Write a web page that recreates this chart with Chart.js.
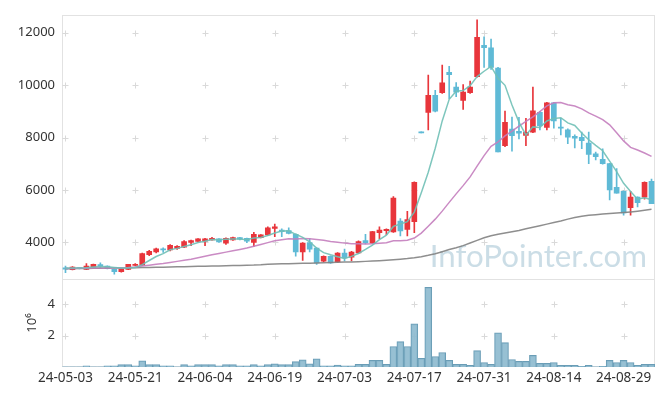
<!DOCTYPE html>
<html><head><meta charset="utf-8">
<script src="https://cdn.jsdelivr.net/npm/chart.js@4.4.1/dist/chart.umd.min.js"></script>
<style>html,body{margin:0;padding:0;background:#fff;}#wrap{width:665px;height:396px;position:relative;}</style>
</head><body><div id="wrap"><canvas id="c" width="665" height="396"></canvas></div>
<script>
const dates = ["24-05-03","24-05-07","24-05-08","24-05-09","24-05-10","24-05-13","24-05-14","24-05-16","24-05-17","24-05-20",
"24-05-21","24-05-22","24-05-23","24-05-24","24-05-27","24-05-28","24-05-29","24-05-30","24-05-31","24-06-03",
"24-06-04","24-06-05","24-06-07","24-06-10","24-06-11","24-06-12","24-06-13","24-06-14","24-06-17","24-06-18",
"24-06-19","24-06-20","24-06-21","24-06-24","24-06-25","24-06-26","24-06-27","24-06-28","24-07-01","24-07-02",
"24-07-03","24-07-04","24-07-05","24-07-08","24-07-09","24-07-10","24-07-11","24-07-12","24-07-15","24-07-16",
"24-07-17","24-07-18","24-07-19","24-07-22","24-07-23","24-07-24","24-07-25","24-07-26","24-07-29","24-07-30",
"24-07-31","24-08-01","24-08-02","24-08-05","24-08-06","24-08-07","24-08-08","24-08-09","24-08-12","24-08-13",
"24-08-14","24-08-16","24-08-19","24-08-20","24-08-21","24-08-22","24-08-23","24-08-26","24-08-27","24-08-28",
"24-08-29","24-08-30","24-09-02","24-09-03","24-09-04"];
const openP = [3038,2960,3020,2970,3061,3160,3100,2975,2885,2975,
3125,3136,3538,3636,3763,3712,3775,3825,4000,4037,
4050,4100,4138,3975,4100,4187,4160,4000,4187,4288,
4537,4475,4450,4312,3636,4000,3788,3286,3475,3262,
3600,3437,3600,4075,3975,4375,4450,4400,4812,4500,
4790,8180,8958,9608,9710,10487,9923,9420,9710,10322,
11512,11425,10650,7692,8320,8233,8083,8207,8958,8383,
9322,8400,8293,8045,8008,7793,7380,7166,7005,6103,
5953,5326,5728,5728,6330];
const highP = [3100,3080,3030,3200,3180,3223,3110,2990,3010,3170,
3200,3600,3700,3790,3800,3920,3880,4070,4090,4150,
4160,4200,4150,4175,4210,4200,4170,4387,4300,4600,
4700,4520,4563,4330,4000,4150,3800,3490,3490,3620,
3750,3660,4060,4312,4430,4600,4520,5750,4913,5190,
6310,8180,10385,9800,10760,10712,10100,10020,10150,12488,
11838,11750,10680,9006,8785,8770,8733,9923,9000,9340,
9340,8733,8330,8100,8207,8207,7450,7568,7020,6817,
5970,5953,5740,6310,6415];
const lowP = [2850,2950,2990,2960,3050,3036,2990,2790,2870,2960,
3110,3130,3500,3600,3620,3680,3740,3800,3876,4020,
3875,4090,4000,3930,4080,4100,3990,3850,4170,4270,
4225,4225,4330,3475,3312,3640,3163,3270,3200,3240,
3300,3300,3580,3950,3960,4150,4300,4380,4250,4250,
4375,8180,8293,8980,9680,9484,9560,9070,9680,10300,
10675,10600,7455,7650,7482,7944,7693,8190,8293,8293,
8357,8105,7767,7606,7580,7005,7150,6990,5626,5878,
5040,5040,5352,5653,5476];
const closeP = [2987,3061,3010,3100,3163,3100,3000,2885,3000,3163,
3163,3575,3662,3763,3712,3888,3850,4037,4075,4138,
4138,4160,4025,4160,4187,4125,4050,4312,4288,4563,
4600,4412,4350,3636,3975,3750,3224,3475,3224,3600,
3412,3636,4037,3988,4412,4475,4500,5690,4440,4875,
6290,8180,9608,9008,10085,10400,9735,9735,9923,11824,
11425,10675,7455,8582,8068,8169,8195,9022,8458,9322,
8631,8357,8019,7981,7880,7354,7268,7005,6002,5878,
5127,5728,5514,6290,5476];
const volumeM = [0.01,0.01,0.01,0.08,0.01,0.01,0.08,0.08,0.15,0.15,
0.08,0.40,0.15,0.15,0.08,0.08,0.01,0.15,0.08,0.15,
0.15,0.15,0.08,0.15,0.15,0.08,0.08,0.15,0.08,0.15,
0.21,0.15,0.15,0.34,0.46,0.21,0.53,0.08,0.07,0.12,
0.07,0.07,0.17,0.17,0.42,0.42,0.17,1.31,1.62,1.31,
2.76,0.55,5.09,0.67,0.93,0.42,0.17,0.17,0.10,1.05,
0.29,0.17,2.19,1.56,0.48,0.36,0.36,0.74,0.23,0.23,
0.29,0.10,0.10,0.10,0.05,0.10,0.01,0.05,0.42,0.29,
0.42,0.29,0.10,0.17,0.17];
const ma5 = [3020,3030,3030,3040,3064,3087,3075,3050,3030,3030,
3042,3157,3313,3465,3575,3720,3775,3850,3912,3998,
4048,4110,4107,4124,4134,4131,4109,4167,4192,4268,
4363,4435,4443,4312,4195,4025,3787,3612,3530,3455,
3387,3469,3582,3735,3897,4110,4282,4613,4703,4796,
5159,5895,6679,7592,8634,9456,9767,9793,9976,10323,
10528,10716,10260,9992,9241,8590,8094,8407,8382,8633,
8726,8758,8557,8462,8174,7918,7700,7498,7102,6701,
6256,5948,5650,5707,5627];
const ma20 = [3010,3012,3015,3020,3025,3030,3032,3035,3040,3050,
3070,3100,3135,3170,3200,3240,3280,3320,3365,3417,
3474,3529,3580,3633,3684,3735,3788,3859,3924,3994,
4065,4107,4142,4135,4148,4142,4110,4082,4040,4013,
3976,3950,3951,3942,3953,3971,3993,4062,4070,4086,
4170,4358,4621,4890,5195,5528,5854,6167,6501,6913,
7313,7665,7836,8066,8249,8433,8618,8785,8986,9208,
9325,9334,9254,9203,9093,8941,8817,8681,8485,8187,
7872,7625,7528,7413,7284];
const ma120 = [3000,3004,3008,3012,3016,3020,3024,3028,3032,3036,
3040,3045,3050,3055,3060,3066,3072,3078,3084,3090,
3096,3102,3108,3114,3120,3126,3132,3138,3150,3172,
3180,3186,3192,3198,3205,3212,3220,3228,3236,3244,
3252,3260,3270,3280,3292,3305,3320,3340,3362,3388,
3420,3460,3510,3570,3650,3730,3800,3880,3980,4080,
4180,4260,4310,4360,4410,4460,4520,4580,4640,4700,
4760,4820,4890,4950,5000,5035,5060,5085,5105,5120,
5140,5165,5195,5230,5265];
const priceTicks = [4000,6000,8000,10000,12000];
const volumeTicks = [2,4];
const labelEvery = 10;

const UP = '#e8353b', DOWN = '#5fbad6';
const candleColors = closeP.map((c,i)=> c > openP[i] ? UP : DOWN);
const FONT = {family:'"Noto Sans", sans-serif', size:13};
const XFONT = {family:'"Noto Sans", sans-serif', size:13.5};
const TXT = '#333';

const decor = {
  id:'decor',
  beforeDatasetsDraw(chart){
    const {ctx, scales:{x,y,yv}} = chart;
    ctx.save();
    ctx.fillStyle = 'rgba(190,212,224,0.8)';
    ctx.font = '32px Lato, sans-serif';
    const w = ctx.measureText('InfoPointer.com').width;
    const fs = 32*217/w;
    ctx.font = fs.toFixed(1)+'px Lato, sans-serif';
    ctx.textAlign='right'; ctx.textBaseline='alphabetic';
    ctx.fillText('InfoPointer.com', 647, 267);
    ctx.strokeStyle = '#e2e2e2'; ctx.lineWidth = 1;
    const L = Math.round(x.left)+0.5, R = Math.round(x.right)-0.5;
    ctx.strokeRect(L, Math.round(y.top)+0.5, R-L, Math.round(y.bottom)-Math.round(y.top));
    ctx.strokeRect(L, Math.round(yv.top)+0.5, R-L, Math.round(yv.bottom)-Math.round(yv.top)-1);
    ctx.strokeStyle = '#d9d9d9';
    const cross = (px,py)=>{px=Math.round(px)+0.5;py=Math.round(py)+0.5;
      ctx.beginPath();ctx.moveTo(px-3,py);ctx.lineTo(px+3,py);ctx.moveTo(px,py-3);ctx.lineTo(px,py+3);ctx.stroke();};
    for (let i=0;i<dates.length;i+=labelEvery){
      const px = x.getPixelForValue(i);
      priceTicks.forEach(v=>cross(px, y.getPixelForValue(v)));
      volumeTicks.forEach(v=>cross(px, yv.getPixelForValue(v)));
    }
    ctx.restore();
  }
};

new Chart(document.getElementById('c'), {
  data:{
    labels: dates,
    datasets:[
      {type:'line', label:'MA5', data:ma5, yAxisID:'y', borderColor:'rgba(112,192,182,0.9)', borderWidth:1.5, pointRadius:0, tension:0, order:0},
      {type:'line', label:'MA20', data:ma20, yAxisID:'y', borderColor:'rgba(196,126,190,0.9)', borderWidth:1.5, pointRadius:0, tension:0, order:0},
      {type:'line', label:'MA120', data:ma120, yAxisID:'y', borderColor:'rgba(130,130,130,0.9)', borderWidth:1.5, pointRadius:0, tension:0, order:0},
      {type:'bar', label:'body', data:openP.map((o,i)=>[o, closeP[i]]), yAxisID:'y', backgroundColor:candleColors, barThickness:5, grouped:false, minBarLength:1, order:1},
      {type:'bar', label:'wick', data:lowP.map((l,i)=>[l, highP[i]]), yAxisID:'y', backgroundColor:candleColors, barThickness:1, grouped:false, minBarLength:1, order:2},
      {type:'bar', label:'volume', data:volumeM, yAxisID:'yv', backgroundColor:'rgba(140,185,206,0.9)', borderColor:'#6a9db6', borderWidth:1, barPercentage:1, categoryPercentage:1, grouped:false, order:3}
    ]
  },
  options:{
    responsive:false, animation:false, devicePixelRatio:1, events:[],
    layout:{padding:{top:10,right:10,left:0,bottom:0}},
    plugins:{legend:{display:false}, tooltip:{enabled:false}},
    scales:{
      x:{type:'category', offset:true, grid:{display:false, drawTicks:false}, border:{display:false},
         ticks:{autoSkip:false, maxRotation:0, minRotation:0, padding:3, color:TXT, font:XFONT,
           callback:(v,i)=> i%labelEvery===0 ? dates[i] : ''},
         afterFit:s=>{s.height=29;}},
      y:{type:'linear', position:'left', stack:'p', stackWeight:3, weight:2, min:2610, max:12680,
         grid:{display:false, drawTicks:false}, border:{display:false},
         afterBuildTicks:s=>{s.ticks = priceTicks.map(v=>({value:v}));},
         ticks:{padding:7, color:TXT, font:FONT, callback:v=>String(v)},
         afterFit:s=>{s.width=62;}},
      yv:{type:'linear', position:'left', stack:'p', stackWeight:1, weight:1, min:0, max:5.63,
         grid:{display:false, drawTicks:false}, border:{display:false},
         afterBuildTicks:s=>{s.ticks = volumeTicks.map(v=>({value:v}));},
         ticks:{padding:7, color:TXT, font:FONT, callback:v=>String(v)},
         title:{display:true, text:'10⁶', color:TXT, font:FONT, padding:{top:24,bottom:0}},
         afterFit:s=>{s.width=62;}}
    }
  },
  plugins:[decor]
});
</script></body></html>
